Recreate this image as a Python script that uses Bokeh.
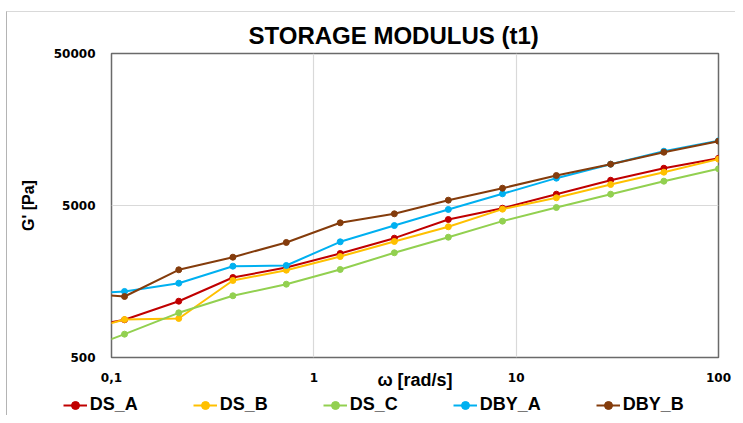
from bokeh.plotting import figure
from bokeh.models import FixedTicker, Legend, LegendItem, Range1d
from bokeh.layouts import column, row
from bokeh.embed import file_html
from bokeh.resources import INLINE

# angular frequency (rad/s); the first point lies just left of the axis and is clipped
omega = [0.0627, 0.116, 0.215, 0.398, 0.731, 1.35, 2.50, 4.62, 8.56, 15.8, 29.3, 53.7, 100]

# storage modulus G' (Pa)
ds_a = [765, 885, 1173, 1680, 1955, 2417, 3048, 4045, 4800, 5935, 7330, 8795, 10230]
ds_b = [709, 889, 903, 1606, 1877, 2308, 2899, 3622, 4730, 5620, 6870, 8280, 10090]
ds_c = [524, 712, 984, 1274, 1518, 1897, 2443, 3093, 3945, 4850, 5935, 7225, 8715]
dby_a = [1303, 1360, 1541, 1994, 2015, 2885, 3690, 4710, 5970, 7565, 9350, 11380, 13330]
dby_b = [1340, 1260, 1888, 2285, 2856, 3847, 4409, 5420, 6500, 7875, 9350, 11210, 13250]

series_names = ["DS_A", "DS_B", "DS_C", "DBY_A", "DBY_B"]
series_values = [ds_a, ds_b, ds_c, dby_a, dby_b]
series_colors = ["#C00000", "#FFC000", "#92D050", "#00B0F0", "#843C0C"]

x_ticks = [0.1, 1, 10, 100]
x_tick_labels = ["0,1", "1", "10", "100"]
y_ticks = [500, 5000, 50000]
y_tick_labels = ["500", "5000", "50000"]

p = figure(width=728, height=383, x_axis_type="log", y_axis_type="log",
           x_range=Range1d(0.1, 100), y_range=Range1d(500, 50000),
           output_backend="svg", toolbar_location=None,
           min_border_left=104, min_border_right=17,
           min_border_top=41, min_border_bottom=38)

p.title.text = "STORAGE MODULUS (t1)"
p.title.text_font = "Liberation Sans"
p.title.text_font_size = "24px"
p.title.text_font_style = "bold"
p.title.text_color = "#000000"
p.title.align = "left"
p.title.offset = 137
p.title.standoff = 9

p.outline_line_color = "#6A6A6A"
p.outline_line_width = 1.5
p.background_fill_color = "white"
p.border_fill_color = "white"

p.xaxis.ticker = FixedTicker(ticks=x_ticks, minor_ticks=[])
p.yaxis.ticker = FixedTicker(ticks=y_ticks, minor_ticks=[])
p.xaxis.major_label_overrides = {t: l for t, l in zip(x_ticks, x_tick_labels)}
p.yaxis.major_label_overrides = {t: l for t, l in zip(y_ticks, y_tick_labels)}

for ax in (p.xaxis, p.yaxis):
    ax.axis_line_color = None
    ax.major_tick_line_color = None
    ax.minor_tick_line_color = None
    ax.major_tick_out = 0
    ax.major_tick_in = 0
    ax.major_label_text_font = "DejaVu Sans"
    ax.major_label_text_font_style = "bold"
    ax.major_label_text_font_size = "12px"
    ax.major_label_text_color = "#000000"

p.xaxis.major_label_standoff = 15
p.yaxis.major_label_standoff = 16

p.yaxis.axis_label = "G' [Pa]"
p.yaxis.axis_label_text_font = "Liberation Sans"
p.yaxis.axis_label_text_font_size = "16px"
p.yaxis.axis_label_text_font_style = "bold"
p.yaxis.axis_label_text_color = "#000000"
p.yaxis.axis_label_standoff = 14

p.xaxis.axis_label = "ω [rad/s]"
p.xaxis.axis_label_text_font = "Liberation Sans"
p.xaxis.axis_label_text_font_size = "18px"
p.xaxis.axis_label_text_font_style = "bold"
p.xaxis.axis_label_text_color = "#000000"
p.xaxis.axis_label_standoff = -15

p.xgrid.ticker = FixedTicker(ticks=x_ticks, minor_ticks=[])
p.ygrid.ticker = FixedTicker(ticks=y_ticks, minor_ticks=[])
p.xgrid.grid_line_color = "#D9D9D9"
p.ygrid.grid_line_color = "#D9D9D9"
p.xgrid.grid_line_width = 1.2
p.ygrid.grid_line_width = 1.2

for name, vals, col in zip(series_names, series_values, series_colors):
    p.line(omega, vals, line_color=col, line_width=2)
    p.scatter(omega, vals, size=6, fill_color=col, line_color=col)

# legend strip below the chart; its series copies fall outside this strip's range
lg = figure(width=728, height=20, output_backend="svg", toolbar_location=None,
            x_axis_location=None, y_axis_location=None, min_border=0,
            x_range=Range1d(0, 1), y_range=Range1d(0, 1))
lg.outline_line_color = None
lg.grid.visible = False
lg.background_fill_color = "white"
lg.border_fill_color = "white"

for fig in (p, lg):
    try:
        fig.frame_align = False
    except Exception:
        pass

items = []
for name, vals, col in zip(series_names, series_values, series_colors):
    l = lg.line(omega, vals, line_color=col, line_width=2)
    s = lg.scatter(omega, vals, size=6, fill_color=col, line_color=col)
    items.append(LegendItem(label=name, renderers=[l, s]))

legend = Legend(items=items, orientation="horizontal", location=(55.7, 0),
                glyph_width=24, glyph_height=20, label_height=20,
                label_standoff=3, spacing=55, padding=0, margin=0,
                border_line_color=None, background_fill_alpha=0,
                label_text_font="Liberation Sans", label_text_font_size="18px",
                label_text_font_style="bold", label_text_color="#000000")
lg.add_layout(legend)

layout = column(p, row(lg), spacing=0)
layout.styles = {"margin-left": "6px", "margin-top": "11px",
                 "border-left": "1px solid #B4B4B4",
                 "border-top": "1px solid #D9D9D9"}
open("out.html", "w").write(file_html(layout, INLINE))
